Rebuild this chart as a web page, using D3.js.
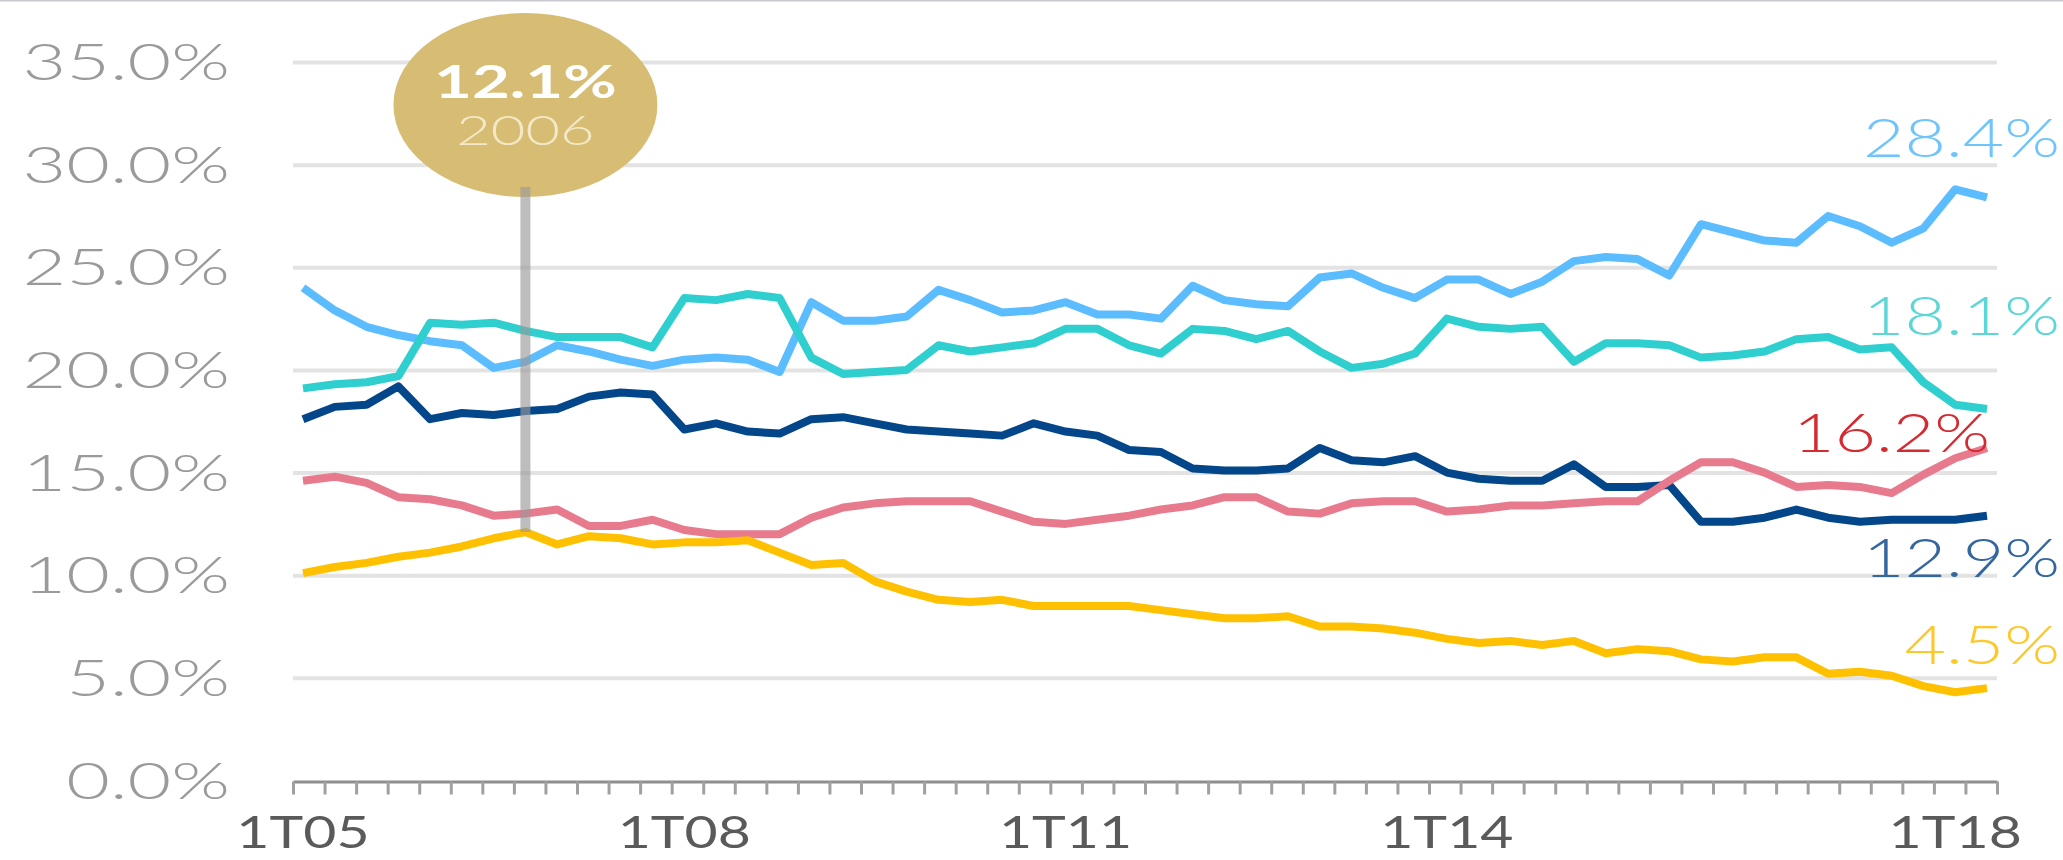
<!DOCTYPE html>
<html>
<head>
<meta charset="utf-8">
<script src="https://cdn.jsdelivr.net/npm/d3@7"></script>
<style>
  body { margin: 0; background: #fff; }
  svg { display: block; }
</style>
</head>
<body>
<svg id="chart"></svg>
<script>
// quarters 1T05 .. 2T18
var quarters = ["1T05","2T05","3T05","4T05","1T06","2T06","3T06","4T06",
  "1T07","2T07","3T07","4T07","1T08","2T08","3T08","4T08",
  "1T09","2T09","3T09","4T09","1T10","2T10","3T10","4T10",
  "1T11","2T11","3T11","4T11","1T12","2T12","3T12","4T12",
  "1T13","2T13","3T13","4T13","1T14","2T14","3T14","4T14",
  "1T15","2T15","3T15","4T15","1T16","2T16","3T16","4T16",
  "1T17","2T17","3T17","4T17","1T18","2T18"];
var xLabels = ["1T05","1T08","1T11","1T14","1T18"];
var yTicks = [0,5,10,15,20,25,30,35];

var skyBlue = [24.0,22.9,22.1,21.7,21.4,21.2,20.1,20.4,21.2,20.9,20.5,20.2,20.5,20.6,20.5,19.9,
  23.3,22.4,22.4,22.6,23.9,23.4,22.8,22.9,23.3,22.7,22.7,22.5,24.1,23.4,23.2,23.1,
  24.5,24.7,24.0,23.5,24.4,24.4,23.7,24.3,25.3,25.5,25.4,24.6,27.1,26.7,26.3,26.2,
  27.5,27.0,26.2,26.9,28.8,28.4];
var teal = [19.1,19.3,19.4,19.7,22.3,22.2,22.3,21.9,21.6,21.6,21.6,21.1,23.5,23.4,23.7,23.5,
  20.6,19.8,19.9,20.0,21.2,20.9,21.1,21.3,22.0,22.0,21.2,20.8,22.0,21.9,21.5,21.9,
  20.9,20.1,20.3,20.8,22.5,22.1,22.0,22.1,20.4,21.3,21.3,21.2,20.6,20.7,20.9,21.5,
  21.6,21.0,21.1,19.4,18.3,18.1];
var navy = [17.6,18.2,18.3,19.2,17.6,17.9,17.8,18.0,18.1,18.7,18.9,18.8,17.1,17.4,17.0,16.9,
  17.6,17.7,17.4,17.1,17.0,16.9,16.8,17.4,17.0,16.8,16.1,16.0,15.2,15.1,15.1,15.2,
  16.2,15.6,15.5,15.8,15.0,14.7,14.6,14.6,15.4,14.3,14.3,14.4,12.6,12.6,12.8,13.2,
  12.8,12.6,12.7,12.7,12.7,12.9];
var pink = [14.6,14.8,14.5,13.8,13.7,13.4,12.9,13.0,13.2,12.4,12.4,12.7,12.2,12.0,12.0,12.0,
  12.8,13.3,13.5,13.6,13.6,13.6,13.1,12.6,12.5,12.7,12.9,13.2,13.4,13.8,13.8,13.1,
  13.0,13.5,13.6,13.6,13.1,13.2,13.4,13.4,13.5,13.6,13.6,14.6,15.5,15.5,15.0,14.3,
  14.4,14.3,14.0,14.9,15.7,16.2];
var gold = [10.1,10.4,10.6,10.9,11.1,11.4,11.8,12.1,11.5,11.9,11.8,11.5,11.6,11.6,11.7,11.1,
  10.5,10.6,9.7,9.2,8.8,8.7,8.8,8.5,8.5,8.5,8.5,8.3,8.1,7.9,7.9,8.0,
  7.5,7.5,7.4,7.2,6.9,6.7,6.8,6.6,6.8,6.2,6.4,6.3,5.9,5.8,6.0,6.0,
  5.2,5.3,5.1,4.6,4.3,4.5];

var noteQuarter = "4T06", noteYear = "2006";

var width = 2063, height = 860,
  margin = {top: 62, right: 66, bottom: 79.5, left: 293},
  inset = 10,   // first / last point sit a little inside the axis
  stretch = 1.3; // type in the source is drawn wide

var pct = d3.format(".1f");

var svg = d3.select("#chart").attr("width", width).attr("height", height);

var x = d3.scalePoint().domain(quarters).range([margin.left + inset, width - margin.right - inset]);
var xEdge = d3.scaleLinear().domain([0, quarters.length]).range([margin.left, width - margin.right]);
var y = d3.scaleLinear().domain([0, 35]).range([height - margin.bottom, margin.top]);

// thin rule on top
svg.append("line").attr("x1", 0).attr("x2", width).attr("y1", 0.5).attr("y2", 0.5)
  .attr("stroke", "#c9c9cf").attr("stroke-width", 2);

// grid
var grid = svg.append("g").attr("transform", "translate(" + margin.left + ",0)")
  .call(d3.axisRight(y).tickValues(yTicks.slice(1)).tickSize(width - margin.right - margin.left).tickFormat(""));
grid.select(".domain").remove();
grid.selectAll("line").attr("stroke", "#e3e3e3").attr("stroke-width", 4);

// y labels
svg.append("g").selectAll("text").data(yTicks).enter().append("text")
  .attr("transform", function(d) { return "translate(" + (margin.left - 63) + "," + (y(d) + 18) + ") scale(1.45,1)"; })
  .attr("text-anchor", "end")
  .attr("font-family", "Lato").attr("font-weight", 300).attr("font-size", 52)
  .attr("fill", "#9a9a9a")
  .text(function(d) { return pct(d) + "%"; });

// x axis
var xAxis = svg.append("g").attr("transform", "translate(0," + (height - margin.bottom + 1) + ")")
  .call(d3.axisBottom(xEdge).tickValues(d3.range(quarters.length + 1)).tickSize(13).tickSizeOuter(0).tickFormat(""));
xAxis.select(".domain").attr("stroke", "#8e8e8e").attr("stroke-width", 3);
xAxis.selectAll(".tick line").attr("stroke", "#a0a0a0").attr("stroke-width", 3);

svg.append("g").selectAll("text").data(xLabels).enter().append("text")
  .attr("transform", function(d) { return "translate(" + x(d) + ",848) scale(" + stretch + ",1)"; })
  .attr("text-anchor", "middle")
  .attr("font-family", "Lato").attr("font-size", 44)
  .attr("fill", "#5a5a5a")
  .text(function(d) { return d; });

// lines, in drawing order
var series = [skyBlue, teal, navy, pink, gold];
var colors = ["#5bbcff", "#2fcfcf", "#03468a", "#e87a8e", "#ffc000"];
var labelColors = ["#6fc4fb", "#5cd6d6", "#3466a0", "#d42a32", "#ffc82a"];
var labelDy = [-40, -74, 61, 4, -24];
var labelX = [2060, 2060, 2060, 1990, 2060];

var line = d3.line()
  .x(function(d, i) { return x(quarters[i]); })
  .y(function(d) { return y(d); });

svg.append("g").selectAll("path").data(series).enter().append("path")
  .attr("d", line)
  .attr("fill", "none")
  .attr("stroke", function(d, i) { return colors[i]; })
  .attr("stroke-width", 8)
  .attr("stroke-linejoin", "round");

svg.append("g").selectAll("text").data(series).enter().append("text")
  .attr("transform", function(d, i) {
    return "translate(" + labelX[i] + "," + (y(d[d.length - 1]) + labelDy[i]) + ") scale(1.35,1)";
  })
  .attr("text-anchor", "end")
  .attr("font-family", "Lato").attr("font-weight", 300).attr("font-size", 53)
  .attr("fill", function(d, i) { return labelColors[i]; })
  .text(function(d) { return pct(d[d.length - 1]) + "%"; });

// 2006 callout
var ni = quarters.indexOf(noteQuarter);
var nx = x(noteQuarter);
svg.append("ellipse").attr("cx", nx).attr("cy", 105).attr("rx", 132).attr("ry", 92)
  .attr("fill", "#d7bd74");
svg.append("line").attr("x1", nx).attr("x2", nx).attr("y1", 187).attr("y2", y(gold[ni]))
  .attr("stroke", "#999").attr("stroke-opacity", 0.65).attr("stroke-width", 10);
svg.append("text")
  .attr("transform", "translate(" + nx + ",98) scale(1.42,1)")
  .attr("text-anchor", "middle")
  .attr("font-family", "Lato").attr("font-weight", 700).attr("font-size", 46)
  .attr("fill", "#fff")
  .text(pct(gold[ni]) + "%");
svg.append("text")
  .attr("transform", "translate(" + nx + ",145) scale(1.42,1)")
  .attr("text-anchor", "middle")
  .attr("font-family", "Lato").attr("font-weight", 300).attr("font-size", 42)
  .attr("fill", "#f3e9c8")
  .text(noteYear);
</script>
</body>
</html>
